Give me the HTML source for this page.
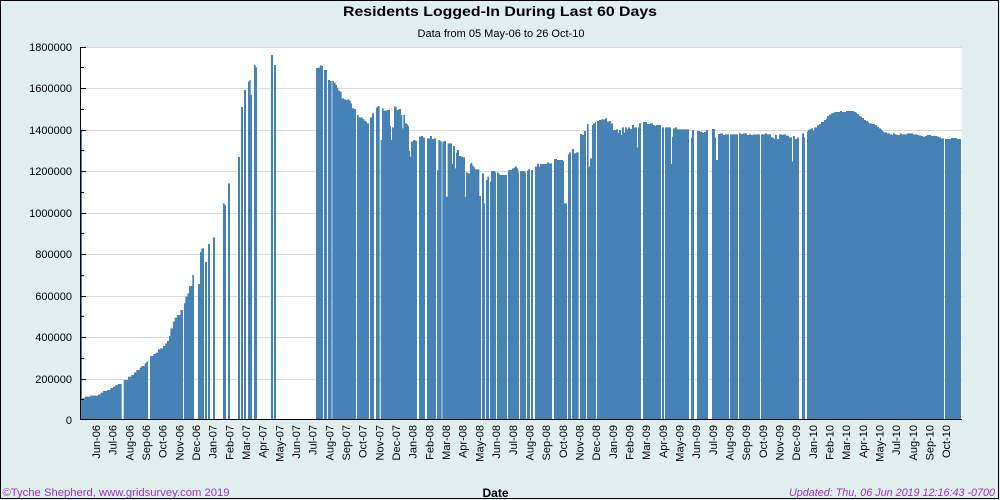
<!DOCTYPE html>
<html>
<head>
<meta charset="utf-8">
<style>
html,body{margin:0;padding:0;background:#e0eeee;}
svg{display:block;}
text{font-family:"Liberation Sans",Arial,sans-serif;}
</style>
</head>
<body>
<svg width="1000" height="500" viewBox="0 0 1000 500" xmlns="http://www.w3.org/2000/svg">
<rect x="0" y="0" width="1000" height="500" fill="#e0eeee"/>
<rect x="0.5" y="0.5" width="998" height="498" fill="none" stroke="#000" stroke-width="1"/>
<!-- plot area -->
<rect x="81" y="47" width="881" height="373" fill="#ffffff"/>
<g stroke="#dadada" stroke-width="1">
<line x1="81" x2="962" y1="47.5" y2="47.5"/>
<line x1="81" x2="962" y1="88.5" y2="88.5"/>
<line x1="81" x2="962" y1="130.5" y2="130.5"/>
<line x1="81" x2="962" y1="171.5" y2="171.5"/>
<line x1="81" x2="962" y1="213.5" y2="213.5"/>
<line x1="81" x2="962" y1="254.5" y2="254.5"/>
<line x1="81" x2="962" y1="296.5" y2="296.5"/>
<line x1="81" x2="962" y1="337.5" y2="337.5"/>
<line x1="81" x2="962" y1="379.5" y2="379.5"/>
</g>
<!-- bars -->
<g fill="#4682b4">
<path transform="translate(78,40) scale(0.33333)" d="M9 1140 V270 H12 V1075 H20 V1070 H37 V1067 H60 V1063 H68 V1058 H75 V1053 H87 V1050 H97 V1044 H105 V1040 H112 V1035 H120 V1032 H131 V1140 H137 V1020 H150 V1010 H160 V1005 H168 V997 H175 V990 H185 V983 H190 V978 H200 V970 H205 V965 H210 V1140 H216 V948 H226 V942 H233 V938 H240 V928 H247 V925 H255 V918 H262 V910 H267 V903 H273 V888 H277 V865 H285 V845 H290 V833 H297 V825 H307 V810 H315 V1140 H318 V790 H322 V770 H328 V760 H333 V738 H343 V705 H348 V1140 H360 V732 H366 V636 H370 V625 H378 V1140 H381 V666 H387 V1140 H390 V612 H396 V1140 H405 V592 H411 V1140 H435 V490 H440 V495 H444 V1140 H450 V430 H456 V1140 H480 V351 H486 V1140 H489 V201 H495 V1140 H498 V150 H504 V1140 H510 V125 H514 V120 H518 V165 H522 V1140 H528 V75 H533 V82 H537 V1140 H579 V45 H585 V1140 H588 V75 H594 V1140 H714 V84 H720 V83 H726 V76 H731 V78 H735 V1140 H738 V90 H741 V1140 Z"/>
<path transform="translate(325,40) scale(0.33333)" d="M0 1140 V90 H6 V1140 H9 V120 H15 V123 H20 V1140 H22 V123 H27 V128 H32 V135 H36 V143 H40 V152 H45 V155 H50 V175 H57 V178 H63 V180 H67 V178 H73 V182 H77 V190 H81 V205 H88 V207 H93 V1140 H96 V225 H101 V232 H113 V237 H118 V242 H122 V245 H126 V250 H132 V1140 H135 V232 H141 V220 H147 V1140 H153 V202 H158 V198 H164 V1140 H167 V300 H171 V205 H176 V212 H186 V210 H195 V258 H198 V300 H201 V262 H207 V200 H215 V210 H221 V207 H228 V225 H232 V265 H235 V225 H240 V250 H246 V253 H249 V258 H252 V333 H255 V350 H258 V305 H264 V300 H270 V302 H276 V1140 H282 V290 H288 V288 H294 V293 H300 V1140 H306 V295 H315 V288 H321 V297 H326 V295 H333 V1140 H336 V390 H340 V300 H346 V304 H350 V1140 H352 V305 H357 V303 H363 V470 H368 V310 H381 V372 H384 V318 H390 V385 H393 V338 H396 V330 H402 V348 H408 V350 H414 V352 H420 V470 H423 V397 H429 V400 H435 V372 H438 V368 H442 V377 H446 V382 H450 V388 H463 V468 H468 V1140 H471 V400 H477 V490 H480 V1140 H483 V420 H487 V410 H492 V1140 H495 V425 H498 V393 H510 V397 H513 V1140 H516 V397 H521 V400 H524 V405 H546 V1140 H549 V390 H561 V385 H567 V383 H570 V380 H576 V385 H580 V397 H582 V1140 H585 V393 H600 V397 H603 V1140 H606 V392 H610 V387 H615 V1140 H618 V390 H624 V1140 H630 V380 H636 V372 H642 V380 H645 V372 H660 V1140 Z"/>
<path transform="translate(545,40) scale(0.33333)" d="M0 1140 V372 H6 V367 H12 V370 H21 V1140 H27 V357 H36 V360 H54 V363 H57 V490 H66 V1140 H69 V343 H72 V337 H78 V1140 H81 V327 H87 V340 H93 V337 H101 V1140 H105 V282 H111 V285 H117 V273 H123 V1140 H126 V252 H131 V380 H135 V355 H141 V255 H144 V250 H150 V246 H153 V1140 H156 V243 H162 V240 H168 V238 H180 V235 H186 V245 H192 V243 H198 V250 H204 V270 H213 V268 H219 V278 H222 V270 H228 V285 H231 V262 H237 V278 H240 V262 H246 V268 H249 V262 H255 V267 H261 V255 H267 V262 H276 V323 H279 V262 H282 V250 H288 V1140 H294 V246 H306 V252 H315 V250 H324 V255 H330 V258 H333 V255 H348 V1140 H351 V262 H357 V1140 H360 V262 H378 V372 H381 V290 H384 V265 H390 V262 H396 V268 H432 V1140 H438 V293 H441 V270 H447 V1140 H456 V273 H465 V275 H471 V278 H477 V276 H483 V270 H489 V1140 H501 V267 H510 V293 H513 V360 H519 V282 H525 V280 H534 V285 H540 V283 H552 V1140 H555 V283 H579 V1140 H582 V280 H588 V282 H594 V280 H606 V285 H612 V283 H618 V285 H624 V283 H645 V1140 H648 V283 H660 V1140 Z"/>
<path transform="translate(765,40) scale(0.33333)" d="M0 1140 V280 H6 V283 H18 V292 H27 V297 H30 V285 H36 V297 H42 V283 H51 V285 H54 V283 H63 V287 H72 V292 H81 V365 H84 V288 H90 V297 H96 V292 H102 V1140 H111 V280 H117 V292 H120 V1140 H126 V275 H129 V270 H132 V268 H138 V265 H144 V272 H147 V262 H156 V256 H162 V252 H168 V246 H177 V240 H183 V236 H186 V228 H192 V224 H198 V220 H204 V218 H210 V216 H225 V213 H231 V216 H243 V213 H267 V216 H273 V218 H276 V222 H282 V227 H285 V230 H291 V234 H297 V240 H303 V243 H309 V247 H312 V250 H321 V252 H330 V255 H336 V260 H342 V265 H348 V268 H351 V272 H354 V275 H357 V277 H366 V280 H375 V283 H381 V285 H384 V280 H390 V283 H396 V285 H405 V280 H411 V283 H426 V280 H444 V283 H456 V285 H462 V286 H468 V288 H474 V290 H480 V288 H486 V285 H498 V288 H516 V290 H522 V292 H528 V295 H537 V1140 H540 V297 H558 V294 H576 V297 H588 V1140 Z"/>
</g>
<!-- axes -->
<g stroke="#000" stroke-width="1" shape-rendering="crispEdges">
<line x1="80.5" y1="47" x2="80.5" y2="420"/>
<line x1="80" y1="419.5" x2="962" y2="419.5"/>
<line x1="81" x2="86" y1="47.5" y2="47.5"/>
<line x1="81" x2="84" y1="67.5" y2="67.5"/>
<line x1="81" x2="86" y1="88.5" y2="88.5"/>
<line x1="81" x2="84" y1="109.5" y2="109.5"/>
<line x1="81" x2="86" y1="130.5" y2="130.5"/>
<line x1="81" x2="84" y1="150.5" y2="150.5"/>
<line x1="81" x2="86" y1="171.5" y2="171.5"/>
<line x1="81" x2="84" y1="192.5" y2="192.5"/>
<line x1="81" x2="86" y1="213.5" y2="213.5"/>
<line x1="81" x2="84" y1="233.5" y2="233.5"/>
<line x1="81" x2="86" y1="254.5" y2="254.5"/>
<line x1="81" x2="84" y1="275.5" y2="275.5"/>
<line x1="81" x2="86" y1="296.5" y2="296.5"/>
<line x1="81" x2="84" y1="316.5" y2="316.5"/>
<line x1="81" x2="86" y1="337.5" y2="337.5"/>
<line x1="81" x2="84" y1="358.5" y2="358.5"/>
<line x1="81" x2="86" y1="379.5" y2="379.5"/>
<line x1="81" x2="84" y1="399.5" y2="399.5"/>
</g>
<!-- y labels -->
<g font-size="11" fill="#000" text-anchor="end">
<text x="72" y="51">1800000</text>
<text x="72" y="92">1600000</text>
<text x="72" y="134">1400000</text>
<text x="72" y="175">1200000</text>
<text x="72" y="217">1000000</text>
<text x="72" y="258">800000</text>
<text x="72" y="300">600000</text>
<text x="72" y="341">400000</text>
<text x="72" y="383">200000</text>
<text x="72" y="424">0</text>
</g>
<!-- x labels -->
<g font-size="11" fill="#000" text-anchor="end">
<text transform="translate(100,425) rotate(-90)">Jun-06</text>
<text transform="translate(116.7,425) rotate(-90)">Jul-06</text>
<text transform="translate(133.3,425) rotate(-90)">Aug-06</text>
<text transform="translate(150,425) rotate(-90)">Sep-06</text>
<text transform="translate(166.7,425) rotate(-90)">Oct-06</text>
<text transform="translate(183.3,425) rotate(-90)">Nov-06</text>
<text transform="translate(200,425) rotate(-90)">Dec-06</text>
<text transform="translate(216.7,425) rotate(-90)">Jan-07</text>
<text transform="translate(233.4,425) rotate(-90)">Feb-07</text>
<text transform="translate(250,425) rotate(-90)">Mar-07</text>
<text transform="translate(266.7,425) rotate(-90)">Apr-07</text>
<text transform="translate(283.4,425) rotate(-90)">May-07</text>
<text transform="translate(300,425) rotate(-90)">Jun-07</text>
<text transform="translate(316.7,425) rotate(-90)">Jul-07</text>
<text transform="translate(333.4,425) rotate(-90)">Aug-07</text>
<text transform="translate(350,425) rotate(-90)">Sep-07</text>
<text transform="translate(366.7,425) rotate(-90)">Oct-07</text>
<text transform="translate(383.4,425) rotate(-90)">Nov-07</text>
<text transform="translate(400.1,425) rotate(-90)">Dec-07</text>
<text transform="translate(416.7,425) rotate(-90)">Jan-08</text>
<text transform="translate(433.4,425) rotate(-90)">Feb-08</text>
<text transform="translate(450.1,425) rotate(-90)">Mar-08</text>
<text transform="translate(466.7,425) rotate(-90)">Apr-08</text>
<text transform="translate(483.4,425) rotate(-90)">May-08</text>
<text transform="translate(500.1,425) rotate(-90)">Jun-08</text>
<text transform="translate(516.8,425) rotate(-90)">Jul-08</text>
<text transform="translate(533.4,425) rotate(-90)">Aug-08</text>
<text transform="translate(550.1,425) rotate(-90)">Sep-08</text>
<text transform="translate(566.8,425) rotate(-90)">Oct-08</text>
<text transform="translate(583.4,425) rotate(-90)">Nov-08</text>
<text transform="translate(600.1,425) rotate(-90)">Dec-08</text>
<text transform="translate(616.8,425) rotate(-90)">Jan-09</text>
<text transform="translate(633.4,425) rotate(-90)">Feb-09</text>
<text transform="translate(650.1,425) rotate(-90)">Mar-09</text>
<text transform="translate(666.8,425) rotate(-90)">Apr-09</text>
<text transform="translate(683.5,425) rotate(-90)">May-09</text>
<text transform="translate(700.1,425) rotate(-90)">Jun-09</text>
<text transform="translate(716.8,425) rotate(-90)">Jul-09</text>
<text transform="translate(733.5,425) rotate(-90)">Aug-09</text>
<text transform="translate(750.1,425) rotate(-90)">Sep-09</text>
<text transform="translate(766.8,425) rotate(-90)">Oct-09</text>
<text transform="translate(783.5,425) rotate(-90)">Nov-09</text>
<text transform="translate(800.1,425) rotate(-90)">Dec-09</text>
<text transform="translate(816.8,425) rotate(-90)">Jan-10</text>
<text transform="translate(833.5,425) rotate(-90)">Feb-10</text>
<text transform="translate(850.2,425) rotate(-90)">Mar-10</text>
<text transform="translate(866.8,425) rotate(-90)">Apr-10</text>
<text transform="translate(883.5,425) rotate(-90)">May-10</text>
<text transform="translate(900.2,425) rotate(-90)">Jul-10</text>
<text transform="translate(916.8,425) rotate(-90)">Aug-10</text>
<text transform="translate(933.5,425) rotate(-90)">Sep-10</text>
<text transform="translate(950.2,425) rotate(-90)">Oct-10</text>
</g>
<!-- titles -->
<text x="500" y="16" font-size="14" font-weight="bold" text-anchor="middle" fill="#000" textLength="314" lengthAdjust="spacingAndGlyphs">Residents Logged-In During Last 60 Days</text>
<text x="501" y="37" font-size="11" text-anchor="middle" fill="#000">Data from 05 May-06 to 26 Oct-10</text>
<text x="495.5" y="497" font-size="12" font-weight="bold" text-anchor="middle" fill="#000">Date</text>
<text x="2.5" y="496" font-size="11" fill="#9932cc" textLength="227" lengthAdjust="spacingAndGlyphs">©Tyche Shepherd, www.gridsurvey.com 2019</text>
<text x="789" y="496" font-size="11" font-style="italic" fill="#9932cc" textLength="206" lengthAdjust="spacingAndGlyphs">Updated: Thu, 06 Jun 2019 12:16:43 -0700</text>
</svg>
</body>
</html>
